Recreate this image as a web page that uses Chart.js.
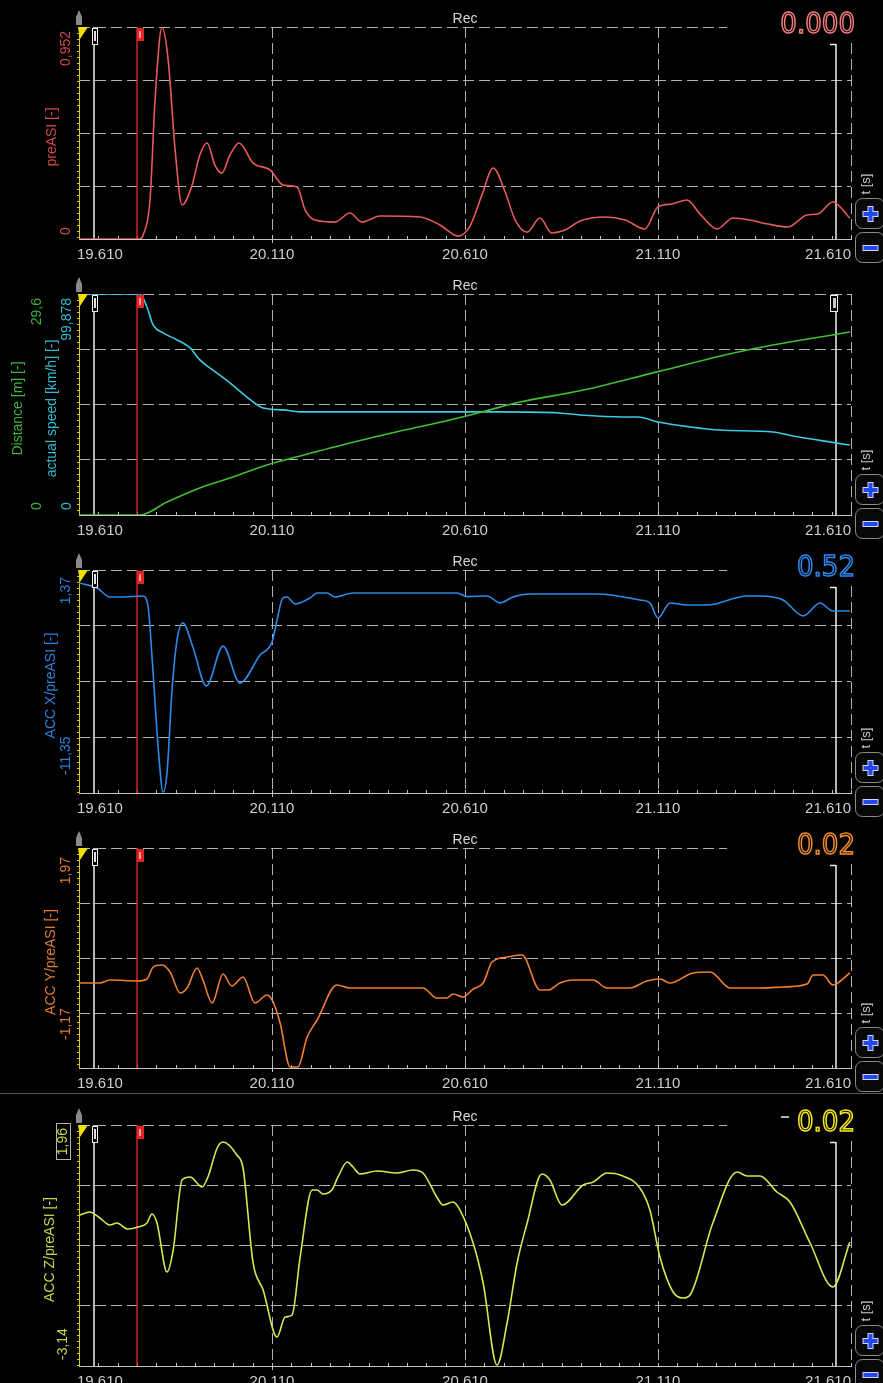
<!DOCTYPE html>
<html>
<head>
<meta charset="utf-8">
<script src="https://cdn.jsdelivr.net/npm/chart.js@4.4.0/dist/chart.umd.min.js"></script>
<style>
html,body{margin:0;padding:0;background:#000;}
#wrap{position:relative;width:883px;height:1383px;overflow:hidden;background:#000;}
#wrap canvas{position:absolute;left:0;}
.sep{position:absolute;left:0;top:1093px;width:883px;height:1px;background:#5a5a5a;}
</style>
</head>
<body>
<div id="wrap"><div class="sep"></div></div>
<script>
// time axis [s]
const xTicks = [19.610, 20.110, 20.610, 21.110, 21.610];
const xLabels = ['19.610', '20.110', '20.610', '21.110', '21.610'];
const cursorLeft = 19.649, cursorRed = 19.760, cursorRight = 21.571;

// axis ranges
const preRange = [0, 0.952];
const speedRange = [0, 99.878];
const distRange = [0, 29.6];
const accXRange = [-11.35, 1.37];
const accYRange = [-1.17, 1.97];
const accZRange = [-3.14, 1.96];

// preASI
const tPre = [19.610, 19.768, 19.776, 19.794, 19.807, 19.825, 19.841, 19.859, 19.877, 19.903, 19.923, 19.942, 19.962, 19.980, 20.001, 20.025, 20.061, 20.105, 20.139, 20.175, 20.196, 20.221, 20.273, 20.312, 20.343, 20.390, 20.493, 20.545, 20.592, 20.623, 20.654, 20.683, 20.714, 20.740, 20.771, 20.804, 20.835, 20.869, 20.908, 20.973, 21.025, 21.076, 21.110, 21.146, 21.185, 21.219, 21.263, 21.304, 21.348, 21.395, 21.447, 21.496, 21.524, 21.563, 21.607];
const vPre = [0, 0, 0.018, 0.175, 0.624, 0.950, 0.804, 0.400, 0.153, 0.242, 0.377, 0.431, 0.332, 0.296, 0.377, 0.431, 0.341, 0.310, 0.242, 0.233, 0.130, 0.085, 0.076, 0.117, 0.076, 0.103, 0.099, 0.063, 0.013, 0.058, 0.198, 0.319, 0.211, 0.085, 0.031, 0.094, 0.027, 0.040, 0.081, 0.099, 0.085, 0.045, 0.144, 0.157, 0.175, 0.112, 0.045, 0.094, 0.085, 0.067, 0.054, 0.108, 0.112, 0.166, 0.094];

// actual speed [km/h]
const tSpeed = [19.610, 19.768, 19.786, 19.802, 19.828, 19.864, 19.898, 19.923, 19.957, 20.001, 20.045, 20.087, 20.139, 20.183, 20.442, 20.701, 20.856, 20.908, 21.019, 21.058, 21.110, 21.193, 21.271, 21.408, 21.460, 21.574, 21.607];
const vSpeed = [99.878, 99.878, 94.0, 85.9, 82.3, 79.1, 75.5, 70.1, 65.5, 59.7, 53.3, 48.4, 47.5, 46.6, 46.6, 46.6, 46.1, 45.2, 44.3, 44.3, 42.0, 39.8, 38.4, 37.5, 35.7, 32.5, 31.6];

// distance [m]
const tDist = [19.610, 19.768, 19.838, 19.923, 20.009, 20.097, 20.183, 20.312, 20.442, 20.571, 20.654, 20.752, 20.908, 21.110, 21.341, 21.607];
const vDist = [0, 0, 1.74, 3.62, 5.09, 6.70, 7.90, 9.64, 11.25, 12.72, 13.80, 15.13, 16.64, 19.2, 22.1, 24.5];

// ACC X / preASI
const tAccX = [19.610, 19.657, 19.690, 19.716, 19.776, 19.789, 19.802, 19.815, 19.828, 19.838, 19.851, 19.864, 19.879, 19.905, 19.940, 19.983, 20.027, 20.079, 20.110, 20.123, 20.138, 20.149, 20.170, 20.208, 20.227, 20.252, 20.273, 20.320, 20.589, 20.615, 20.667, 20.701, 20.734, 20.778, 20.952, 21.063, 21.089, 21.110, 21.141, 21.185, 21.237, 21.341, 21.374, 21.434, 21.486, 21.530, 21.563, 21.607];
const vAccX = [0.63, 0.34, -0.17, -0.17, -0.11, -0.74, -4.50, -8.73, -11.30, -10.21, -5.48, -2.62, -1.65, -3.02, -5.25, -2.97, -5.08, -3.48, -2.74, -1.48, -0.23, -0.17, -0.57, -0.23, 0.06, 0.06, -0.17, 0.06, 0.06, -0.15, -0.11, -0.51, -0.17, 0.00, 0.00, -0.34, -0.51, -1.37, -0.51, -0.63, -0.63, -0.11, -0.11, -0.34, -1.25, -0.51, -0.97, -0.97];

// ACC Y / preASI
const tAccY = [19.610, 19.664, 19.690, 19.763, 19.786, 19.802, 19.825, 19.846, 19.872, 19.890, 19.916, 19.931, 19.955, 19.983, 20.006, 20.035, 20.066, 20.097, 20.113, 20.131, 20.157, 20.177, 20.201, 20.227, 20.278, 20.312, 20.501, 20.537, 20.563, 20.579, 20.605, 20.631, 20.657, 20.680, 20.719, 20.758, 20.804, 20.825, 20.856, 20.890, 20.942, 20.978, 21.037, 21.081, 21.115, 21.141, 21.201, 21.245, 21.297, 21.374, 21.434, 21.496, 21.512, 21.537, 21.563, 21.607];
const vAccY = [0.043, 0.043, 0.086, 0.072, 0.100, 0.271, 0.300, 0.200, -0.100, -0.028, 0.257, 0.086, -0.242, 0.172, 0.000, 0.129, -0.242, -0.128, -0.228, -0.528, -1.156, -1.156, -0.728, -0.485, 0.015, -0.028, -0.028, -0.171, -0.171, -0.114, -0.157, -0.043, 0.043, 0.343, 0.414, 0.443, -0.057, -0.057, 0.043, 0.086, 0.086, -0.028, -0.028, 0.072, 0.100, 0.043, 0.186, 0.200, -0.028, -0.028, -0.014, 0.029, 0.157, 0.157, 0.015, 0.186];

// ACC Z / preASI
const tAccZ = [19.612, 19.638, 19.664, 19.690, 19.708, 19.737, 19.763, 19.786, 19.799, 19.812, 19.838, 19.854, 19.877, 19.898, 19.929, 19.944, 19.968, 19.983, 20.019, 20.035, 20.061, 20.087, 20.123, 20.144, 20.162, 20.183, 20.214, 20.227, 20.242, 20.265, 20.281, 20.305, 20.320, 20.338, 20.382, 20.434, 20.475, 20.501, 20.537, 20.553, 20.579, 20.597, 20.631, 20.657, 20.693, 20.719, 20.745, 20.771, 20.809, 20.830, 20.861, 20.916, 20.942, 20.978, 21.012, 21.063, 21.089, 21.115, 21.149, 21.175, 21.193, 21.252, 21.315, 21.341, 21.374, 21.418, 21.452, 21.504, 21.563, 21.607];
const vAccZ = [0.055, 0.119, -0.008, -0.156, -0.114, -0.241, -0.199, -0.114, 0.077, -0.114, -1.151, -0.685, 0.796, 0.860, 0.648, 0.860, 1.473, 1.600, 1.325, 1.050, -0.960, -1.532, -2.526, -2.103, -2.061, -0.833, 0.584, 0.584, 0.500, 0.584, 0.860, 1.177, 1.071, 0.923, 0.987, 0.944, 1.008, 0.944, 0.436, 0.267, 0.331, 0.161, -0.537, -1.384, -3.119, -2.230, -0.960, -0.114, 0.923, 0.796, 0.267, 0.690, 0.754, 0.944, 0.902, 0.627, 0.161, -0.833, -1.574, -1.701, -1.637, -0.114, 0.965, 0.881, 0.881, 0.542, 0.331, -0.537, -1.468, -0.516];

const FONT = '"Liberation Sans", Arial, sans-serif';
const GRID = '#b2b2b2';
const fmt = v => String(v).replace('.', ',');

const panels = [
  { top: 0, h: 270, pt: 27, pb: 239, readout: '0.000', readColor: '#f07a7a',
    axes: [{ id: 'y', range: preRange, color: '#d04a4a', x: 66, title: 'preASI [-]', tx: 52, topOff: 4, botOff: 4 }],
    series: [{ t: tPre, v: vPre, color: '#e85a5a', axis: 'y' }] },
  { top: 270, h: 275, pt: 24, pb: 245, readout: null, rightBox: true,
    axes: [{ id: 'y', range: speedRange, color: '#34b8d0', x: 67, title: 'actual speed [km/h] [-]', tx: 52, topOff: 4, botOff: 5 },
           { id: 'y2', range: distRange, color: '#3cb43c', x: 37, title: 'Distance [m] [-]', tx: 18, topOff: 4, botOff: 5 }],
    series: [{ t: tDist, v: vDist, color: '#40c030', axis: 'y2' }, { t: tSpeed, v: vSpeed, color: '#3ccbe2', axis: 'y' }] },
  { top: 545, h: 275, pt: 25, pb: 248, readout: '0.52', readColor: '#2f86ee',
    axes: [{ id: 'y', range: accXRange, color: '#2a80d8', x: 66, title: 'ACC X/preASI [-]', tx: 51, topOff: 7, botOff: 18 }],
    series: [{ t: tAccX, v: vAccX, color: '#2e8ae8', axis: 'y' }] },
  { top: 820, h: 273, pt: 28, pb: 248, readout: '0.02', readColor: '#f08a2a',
    axes: [{ id: 'y', range: accYRange, color: '#e07a30', x: 66, title: 'ACC Y/preASI [-]', tx: 51, topOff: 9, botOff: 28 }],
    series: [{ t: tAccY, v: vAccY, color: '#f08030', axis: 'y' }] },
  { top: 1094, h: 289, pt: 31, pb: 272, readout: '0.02', readMinus: true, readColor: '#f4e41c', boxTop: true,
    axes: [{ id: 'y', range: accZRange, color: '#c4d640', x: 63, title: 'ACC Z/preASI [-]', tx: 50, topOff: 3, botOff: 6 }],
    series: [{ t: tAccZ, v: vAccZ, color: '#d6e850', axis: 'y' }] }
];

function vtext(ctx, s, x, y, align, color, font) {
  ctx.save();
  ctx.translate(x, y);
  ctx.rotate(-Math.PI / 2);
  ctx.textAlign = align;
  ctx.textBaseline = 'middle';
  ctx.fillStyle = color;
  ctx.font = font;
  ctx.fillText(s, 0, 0);
  ctx.restore();
}

function seg(ctx, x1, y1, x2, y2) {
  ctx.beginPath(); ctx.moveTo(x1, y1); ctx.lineTo(x2, y2); ctx.stroke();
}

function button(ctx, x, y, w, h, plus) {
  ctx.save();
  ctx.beginPath();
  ctx.roundRect(x + 0.5, y + 0.5, w, h, 7);
  ctx.fillStyle = '#080808';
  ctx.fill();
  ctx.strokeStyle = '#8c8c8c';
  ctx.lineWidth = 1;
  ctx.stroke();
  const cx = x + w / 2 + 1, cy = y + h / 2 + 1;
  ctx.fillStyle = '#cfd6ff';
  ctx.fillRect(cx - 8, cy - 3, 16, 6);
  if (plus) ctx.fillRect(cx - 3, cy - 8, 6, 16);
  ctx.fillStyle = '#2448f0';
  ctx.fillRect(cx - 7, cy - 2, 14, 4);
  if (plus) ctx.fillRect(cx - 2, cy - 7, 4, 14);
  ctx.restore();
}

function makePanel(p) {
  const cv = document.createElement('canvas');
  cv.width = 883; cv.height = p.h;
  cv.style.top = p.top + 'px';
  cv.style.width = '883px'; cv.style.height = p.h + 'px';
  document.getElementById('wrap').appendChild(cv);

  const scales = {
    x: {
      type: 'linear', min: xTicks[0], max: xTicks[xTicks.length - 1],
      afterBuildTicks: s => { s.ticks = xTicks.map(v => ({ value: v })); },
      ticks: { display: false },
      border: { display: false, dash: [11, 5] },
      grid: { drawTicks: false, lineWidth: 1, color: c => c.index === 0 ? 'rgba(0,0,0,0)' : GRID }
    }
  };
  p.axes.forEach((a, i) => {
    scales[a.id] = {
      type: 'linear', position: 'left', min: a.range[0], max: a.range[1],
      afterBuildTicks: s => { s.ticks = [0, 1, 2, 3, 4].map(k => ({ value: a.range[0] + (a.range[1] - a.range[0]) * k / 4 })); },
      ticks: { display: false },
      border: { display: false, dash: [11, 5] },
      grid: { display: i === 0, drawTicks: false, lineWidth: 1, color: c => c.index === 0 ? 'rgba(0,0,0,0)' : GRID }
    };
  });

  const deco = {
    id: 'deco',
    beforeDatasetsDraw(chart) {
      const { ctx, chartArea: a } = chart;
      const sx = chart.scales.x;
      ctx.save();
      if (p.readout) {
        ctx.fillStyle = '#000';
        ctx.fillRect(727, 0, 883 - 727, a.top + 16);
      }
      // bottom axis with minor ticks
      ctx.strokeStyle = '#c4c4c4'; ctx.lineWidth = 1;
      seg(ctx, a.left, a.bottom + 0.5, a.right + 1, a.bottom + 0.5);
      for (let k = 0; k <= 40; k++) {
        const px = Math.round(sx.getPixelForValue(xTicks[0] + k * 0.05)) + 0.5;
        seg(ctx, px, a.bottom, px, a.bottom - 3);
      }
      const bx = Math.round(sx.getPixelForValue(xTicks[1])) + 0.5;
      seg(ctx, bx, a.bottom, bx, a.bottom + 4);
      // yellow left axis
      ctx.strokeStyle = '#d8c800';
      seg(ctx, a.left + 0.5, a.top, a.left + 0.5, a.bottom);
      for (let y = a.top + 6; y < a.bottom; y += 6) seg(ctx, a.left - 2, y + 0.5, a.left, y + 0.5);
      // cursors
      const xl = Math.round(sx.getPixelForValue(cursorLeft));
      const xr = Math.round(sx.getPixelForValue(cursorRed));
      const xe = Math.round(sx.getPixelForValue(cursorRight));
      ctx.strokeStyle = '#f0f0f0'; ctx.lineWidth = 1.5;
      seg(ctx, xl, a.top, xl, a.bottom);
      ctx.strokeStyle = '#d42020'; ctx.lineWidth = 1.5;
      seg(ctx, xr, a.top, xr, a.bottom);
      ctx.strokeStyle = '#f0f0f0'; ctx.lineWidth = 1.5;
      if (p.rightBox) {
        seg(ctx, xe, a.top, xe, a.bottom);
      } else {
        seg(ctx, xe, a.top + 17, xe, a.bottom);
        seg(ctx, xe - 6, a.top + 17.5, xe, a.top + 17.5);
      }
      ctx.restore();
    },
    afterDraw(chart) {
      const { ctx, chartArea: a } = chart;
      const sx = chart.scales.x;
      ctx.save();
      // markers on cursors
      const xl = Math.round(sx.getPixelForValue(cursorLeft));
      const xr = Math.round(sx.getPixelForValue(cursorRed));
      const xe = Math.round(sx.getPixelForValue(cursorRight));
      ctx.fillStyle = '#000';
      ctx.fillRect(xl - 1, a.top + 1, 5, 16);
      ctx.strokeStyle = '#f0f0f0'; ctx.lineWidth = 1;
      ctx.strokeRect(xl - 1.5, a.top + 1.5, 5, 16);
      ctx.fillStyle = '#e0e0e0';
      ctx.fillRect(xl, a.top + 4, 2, 10);
      if (p.rightBox) {
        ctx.fillStyle = '#000';
        ctx.fillRect(xe - 5, a.top + 1, 7, 16);
        ctx.strokeStyle = '#f0f0f0';
        ctx.strokeRect(xe - 5.5, a.top + 1.5, 7, 16);
        ctx.fillStyle = '#c8c8c8';
        ctx.fillRect(xe - 3, a.top + 4, 3, 10);
      }
      ctx.fillStyle = '#e02424';
      ctx.fillRect(xr, a.top + 1, 7, 13);
      ctx.fillStyle = '#ff9a9a';
      ctx.fillRect(xr + 2, a.top + 4, 2, 7);
      // pin and yellow triangle on the left axis
      ctx.fillStyle = '#8a8a8a';
      ctx.beginPath();
      ctx.moveTo(a.left, a.top - 17); ctx.lineTo(a.left + 3, a.top - 10);
      ctx.lineTo(a.left + 3, a.top - 2); ctx.lineTo(a.left - 3, a.top - 2);
      ctx.lineTo(a.left - 3, a.top - 10); ctx.closePath(); ctx.fill();
      ctx.fillStyle = '#f2e000';
      ctx.beginPath();
      ctx.moveTo(a.left - 1, a.top); ctx.lineTo(a.left + 9, a.top); ctx.lineTo(a.left + 1, a.top + 12);
      ctx.closePath(); ctx.fill();

      // x tick labels
      ctx.font = '15px ' + FONT;
      ctx.fillStyle = '#cfcfcf';
      ctx.textBaseline = 'alphabetic';
      xTicks.forEach((v, i) => {
        const px = sx.getPixelForValue(v);
        ctx.textAlign = i === 0 ? 'left' : (i === xTicks.length - 1 ? 'right' : 'center');
        ctx.fillText(xLabels[i], i === 0 ? px - 2 : px, a.bottom + 20);
      });
      // Rec
      ctx.font = '14px ' + FONT;
      ctx.textAlign = 'center';
      ctx.fillStyle = '#d8d8d8';
      ctx.fillText('Rec', sx.getPixelForValue(xTicks[2]), a.top - 4);

      // y labels and titles
      p.axes.forEach(ax => {
        vtext(ctx, fmt(ax.range[1]), ax.x, a.top + ax.topOff, 'right', ax.color, '14px ' + FONT);
        vtext(ctx, fmt(ax.range[0]), ax.x, a.bottom - ax.botOff, 'left', ax.color, '14px ' + FONT);
        vtext(ctx, ax.title, ax.tx, (a.top + a.bottom) / 2 + 4, 'center', ax.color, '14px ' + FONT);
      });
      if (p.boxTop) {
        ctx.strokeStyle = '#b0b0b0'; ctx.lineWidth = 1;
        ctx.strokeRect(56.5, a.top - 1.5, 14, 36);
      }

      // digital readout
      if (p.readout) {
        ctx.font = '29px "Liberation Sans Narrow", "DejaVu Sans Condensed", ' + FONT;
        ctx.textAlign = 'right';
        ctx.lineWidth = 1.5;
        ctx.strokeStyle = p.readColor;
        ctx.strokeText(p.readout, 855, a.top + 6);
        if (p.readMinus) {
          ctx.fillStyle = '#b0b0b0';
          ctx.fillRect(781, a.top - 9, 8, 2);
        }
      }

      // time unit and zoom buttons
      vtext(ctx, 't [s]', 866, a.bottom - 55, 'center', '#c8c8c8', '13px ' + FONT);
      button(ctx, 855, a.bottom - 41, 29, 30, true);
      button(ctx, 855, a.bottom - 7, 29, 30, false);
      ctx.restore();
    }
  };

  new Chart(cv, {
    type: 'line',
    data: {
      datasets: p.series.map(s => ({
        data: s.t.map((t, i) => ({ x: t, y: s.v[i] })),
        yAxisID: s.axis,
        borderColor: s.color,
        borderWidth: 1.6,
        pointRadius: 0,
        fill: false,
        cubicInterpolationMode: 'monotone'
      }))
    },
    options: {
      responsive: false,
      animation: false,
      devicePixelRatio: 1,
      layout: { padding: { left: 79, right: 32, top: p.pt, bottom: p.h - p.pb } },
      plugins: { legend: { display: false }, tooltip: { enabled: false } },
      scales: scales
    },
    plugins: [deco]
  });
}

panels.forEach(makePanel);
</script>
</body>
</html>
